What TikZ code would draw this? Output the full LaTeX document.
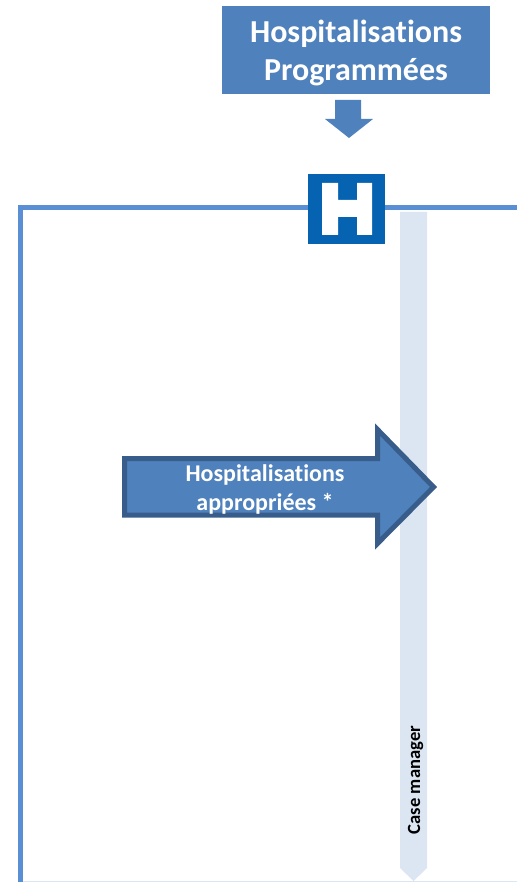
\documentclass[tikz,border=0pt]{standalone}
\usepackage{fontspec}
\setmainfont[Ligatures=NoCommon]{Carlito}
\definecolor{boxblue}{HTML}{4F81BD}
\definecolor{framblue}{HTML}{5B8FD5}
\definecolor{edgeblue}{HTML}{385D8A}
\definecolor{stripblue}{HTML}{DCE6F2}
\definecolor{hblue}{HTML}{0563B1}
\tikzset{
  headtext/.style={text=white,font=\fontsize{32}{38}\selectfont\bfseries,align=center,inner sep=0pt},
  arrowtext/.style={text=white,font=\fontsize{24}{29}\selectfont\bfseries,align=center,inner sep=0pt},
  striptext/.style={text=black,font=\fontsize{18.6}{20}\selectfont\bfseries,inner sep=0pt,rotate=90}
}
\begin{document}
\begin{tikzpicture}[x=1pt,y=-1pt]
\useasboundingbox (0,0) rectangle (517,882);
% frame
\draw[stripblue,line width=1.2pt] (21,881.2) -- (517,881.2);
\draw[framblue,line width=5.5pt] (20.7,882) -- (20.7,207.3) -- (517,207.3);
% strip
\fill[stripblue] (400,212) -- (427,212) -- (427,868) -- (413.5,881) -- (400,868) -- cycle;
% top box and small arrow
\fill[boxblue] (222,6) rectangle (490,94);
\node[headtext] (title) at (356,52.5) {Hospitalisations\\Programmées};
\fill[boxblue] (335,100) -- (361,100) -- (361,119) -- (373,119) -- (349,138) -- (325,119) -- (335,119) -- cycle;
% H sign
\fill[hblue] (308,174) rectangle (385,244);
\fill[white] (322,183) -- (338,183) -- (338,200) -- (357,200) -- (357,183) -- (372,183) -- (372,235) -- (357,235) -- (357,217) -- (338,217) -- (338,235) -- (322,235) -- cycle;
% big arrow
\draw[fill=boxblue,draw=edgeblue,line width=5pt,miter limit=10] (124.5,458.5) -- (377.5,458.5) -- (377.5,429.5) -- (433.5,487) -- (377.5,543.5) -- (377.5,515) -- (124.5,515) -- cycle;
\node[arrowtext] (hosp) at (265,489) {Hospitalisations\\appropriées *};
\node[striptext] (cm) at (415.5,780) {Case manager};
\end{tikzpicture}
\end{document}
